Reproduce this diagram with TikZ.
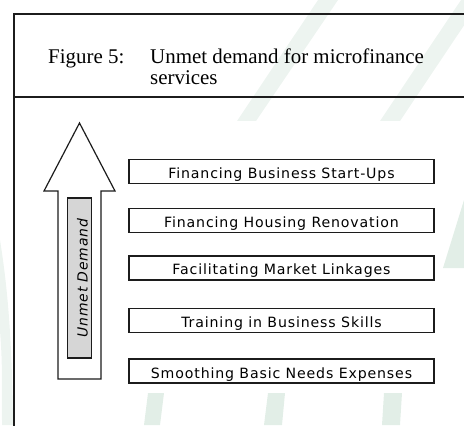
\documentclass[tikz,border=0pt]{standalone}
\usepackage{fontspec}
\setmainfont{Liberation Serif}
\newfontfamily\boxfont[LetterSpace=6]{DejaVu Sans}
\usetikzlibrary{positioning}
\definecolor{stripe}{RGB}{226,238,231}
\definecolor{stripelight}{RGB}{237,244,240}
\definecolor{framegray}{RGB}{28,28,28}
\definecolor{demandgray}{RGB}{214,214,214}

\begin{document}
\begin{tikzpicture}[x=1bp, y=-1bp,
levelbox/.style={rectangle,
  draw=framegray,
  line width=1.4bp,
  minimum width=305bp,
  minimum height=24bp,
  inner sep=0pt,
  text height=14bp,
  text depth=0bp,
  font=\boxfont\fontsize{14.2}{16}\selectfont
},
demandbox/.style={rectangle,
  draw=framegray,
  fill=demandgray,
  line width=1.2bp,
  rotate=90,
  minimum width=160bp,
  minimum height=24bp,
  inner sep=0pt,
  text height=16bp,
  text depth=0bp,
  font=\boxfont\itshape\fontsize{14}{16}\selectfont
},
titletext/.style={anchor=base west,
  inner sep=0pt,
  font=\fontsize{21}{21}\selectfont
}
]
\useasboundingbox (0,0) rectangle (464,425);

% watermark behind the figure
\fill[stripelight] (318,0) -- (338,0) -- (256,121) -- (237,121) -- cycle;
\fill[stripelight] (461,0) -- (481,0) -- (400,121) -- (380,121) -- cycle;
\fill[stripe] (443,268) -- (464,200) -- (464,268) -- cycle;
\fill[stripe] (148,393) -- (164,393) -- (160,425) -- (144,425) -- cycle;
\fill[stripe] (268,393) -- (285,393) -- (282,425) -- (264,425) -- cycle;
\fill[stripe] (384,393) -- (402,393) -- (400,425) -- (382,425) -- cycle;
\fill[stripelight] (0,240) .. controls (8,290) and (12,340) .. (13,425) -- (2,425) .. controls (2,360) .. (0,330) -- cycle;
\fill[white] (15,121) rectangle (441,393);

% frame
\draw[framegray, line width=2.2bp] (470,14) -- (14,14) -- (14,430);
\draw[framegray, line width=2.2bp] (14,97) -- (470,97);

% caption
\node[titletext] (fig) at (48,63) {Figure 5:};
\node[titletext] (cap1) at (150,63) {Unmet demand for microfinance};
\node[titletext] (cap2) at (150,84) {services};

% big arrow
\coordinate (tip) at (79.5,123);
\draw[framegray, line width=1.2bp, fill=white]
    (58,379) -- (58,191) -- (44,191) -- (tip) -- (115,191) -- (101,191) -- (101,379) -- cycle;
\node[demandbox] (demand) at (79.5,278) {Unmet Demand};

% levels of demand
\node[levelbox] (startups) at (281.5,171.5)
    {Financing Business Start-Ups};
\node[levelbox, below=23.5bp of startups] (housing)
    {Financing Housing Renovation};
\node[levelbox, below=22bp of housing] (market)
    {Facilitating Market Linkages};
\node[levelbox, below=27bp of market] (training)
    {Training in Business Skills};
\node[levelbox, below=25.5bp of training] (needs)
    {Smoothing Basic Needs Expenses};
\end{tikzpicture}
\end{document}
